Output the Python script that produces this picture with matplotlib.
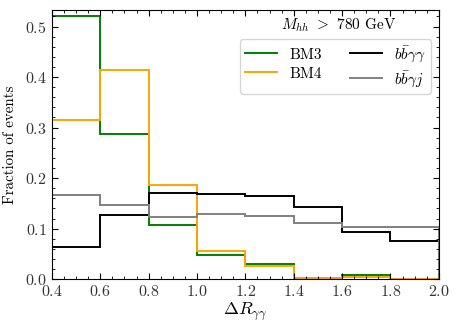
import numpy as np
import matplotlib
matplotlib.use("Agg")
import matplotlib.pyplot as plt
from matplotlib.ticker import MultipleLocator

plt.rcParams['font.family'] = 'serif'
plt.rcParams['font.serif'] = ['cmr10']
plt.rcParams['mathtext.fontset'] = 'cm'
plt.rcParams['axes.formatter.use_mathtext'] = True

bin_edges = [0.4, 0.6, 0.8, 1.0, 1.2, 1.4, 1.6, 1.8, 2.0]
bm3 = [0.520, 0.287, 0.107, 0.048, 0.029, 0.002, 0.009, 0.0]
bm4 = [0.315, 0.413, 0.187, 0.056, 0.025, 0.003, 0.005, 0.001]
bbaa = [0.064, 0.127, 0.170, 0.168, 0.164, 0.142, 0.094, 0.076]
bbaj = [0.166, 0.146, 0.123, 0.128, 0.124, 0.112, 0.104, 0.104]

fig = plt.figure(figsize=(4.59, 3.28), dpi=100)
ax = fig.add_axes([0.113, 0.149, 0.843, 0.821])

lw = 1.4
ax.stairs(bm3, bin_edges, color='green', lw=lw, label='BM3')
ax.stairs(bm4, bin_edges, color='orange', lw=lw, label='BM4')
ax.stairs(bbaa, bin_edges, color='black', lw=lw, label=r'$b\bar{b}\gamma\gamma$')
ax.stairs(bbaj, bin_edges, color='gray', lw=lw, label=r'$b\bar{b}\gamma j$')

ax.set_xlim(0.4, 2.0)
ax.set_ylim(0, 0.533)
ax.xaxis.set_major_locator(MultipleLocator(0.2))
ax.xaxis.set_minor_locator(MultipleLocator(0.05))
ax.yaxis.set_major_locator(MultipleLocator(0.1))
ax.yaxis.set_minor_locator(MultipleLocator(0.02))
ax.tick_params(which='both', direction='in', top=True, right=True, labelsize=11.5, labelcolor='#333333')
ax.tick_params(which='major', length=4)
ax.tick_params(which='minor', length=2)

ax.set_xlabel(r'$\Delta R_{\gamma\gamma}$', fontsize=13, labelpad=1)
ax.set_ylabel('Fraction of events', fontsize=10.8)
ax.yaxis.set_label_coords(-0.09, 0.5)

ax.text(0.742, 0.944, r'$M_{hh}$ $>$ 780 GeV', transform=ax.transAxes, ha='center', va='center', fontsize=11)
ax.legend(ncol=2, loc='upper right', bbox_to_anchor=(0.979, 0.893), borderaxespad=0,
          borderpad=0.35, fontsize=11, handlelength=2.1, columnspacing=1.8, labelspacing=0.35,
          frameon=True)

fig.savefig('out.png', dpi=100)
